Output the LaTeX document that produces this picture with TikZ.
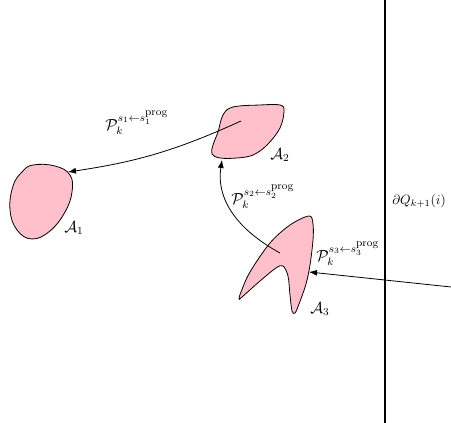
\documentclass[tikz,border=0pt]{standalone}
\usepackage{amsmath,amssymb}
\usepackage{tikz}
\usetikzlibrary{arrows.meta}
\definecolor{blobpink}{HTML}{FFC0CB}

\begin{document}
\begin{tikzpicture}[
    x=0.75pt, y=-0.75pt,
    region/.style={draw=black, fill=blobpink, line width=0.6pt},
    flow/.style={-{Latex[length=6pt,width=4.5pt]}, line width=0.6pt},
    regionlabel/.style={font=\large, inner sep=0pt},
    pathlabel/.style={font=\large, inner sep=0pt}
]
    \useasboundingbox (0,0) rectangle (451,423);

    % Regioni
    \draw[region] plot[smooth cycle, tension=0.7] coordinates {
        (33,165) (55,166) (70,175) (72,192) (65,212) (50,231) (32,239) (17,230) (10,210) (13,186) (22,172)};
    \draw[region] plot[smooth cycle, tension=0.6] coordinates {
        (223,115) (233,107) (260,105) (280,105) (284,111) (280,128) (267,145) (253,155) (237,158) (220,158) (212,154) (213,145) (218,132)};
    \draw[region] plot[smooth cycle, tension=0.55] coordinates {
        (309,216) (313,224) (313,240) (310,265) (306,284) (299,304) (295,313) (292,311) (290,295) (288,276) (283,266) (276,268) (260,281) (242,297) (239,299) (241,292) (250,272) (270,243) (290,225)};

    \node[regionlabel] (lA1) at (74,228) {$\mathcal{A}_1$};
    \node[regionlabel] (lA2) at (280,155) {$\mathcal{A}_2$};
    \node[regionlabel] (lA3) at (320,309) {$\mathcal{A}_3$};

    % Frontiera
    \coordinate (qtop) at (385,0);
    \coordinate (qbot) at (385,423);
    \draw[line width=0.8pt] (qtop) -- (qbot);
    \node[font=\normalsize, inner sep=0pt] (lQ) at (419,201) {$\partial Q_{k+1}(i)$};

    % Punti di partenza e arrivo
    \coordinate (a2in)  at (241,121);
    \coordinate (a1end) at (68,172);
    \coordinate (a3in)  at (280,253);
    \coordinate (a2end) at (222,160);
    \coordinate (outer) at (451,287);
    \coordinate (a3end) at (309,272);

    \draw[flow] (a2in) to[bend left=8] (a1end);
    \draw[flow] (a3in) .. controls (238,230) and (216,200) .. (a2end);
    \draw[flow] (outer) -- (a3end);

    \node[pathlabel] (lP1) at (137,123) {$\mathcal{P}_k^{s_1\leftarrow s_1^{\scriptstyle\mathrm{prog}}}$};
    \node[pathlabel] (lP2) at (263,197) {$\mathcal{P}_k^{s_2\leftarrow s_2^{\scriptstyle\mathrm{prog}}}$};
    \node[pathlabel] (lP3) at (348,254) {$\mathcal{P}_k^{s_3\leftarrow s_3^{\scriptstyle\mathrm{prog}}}$};
\end{tikzpicture}
\end{document}
